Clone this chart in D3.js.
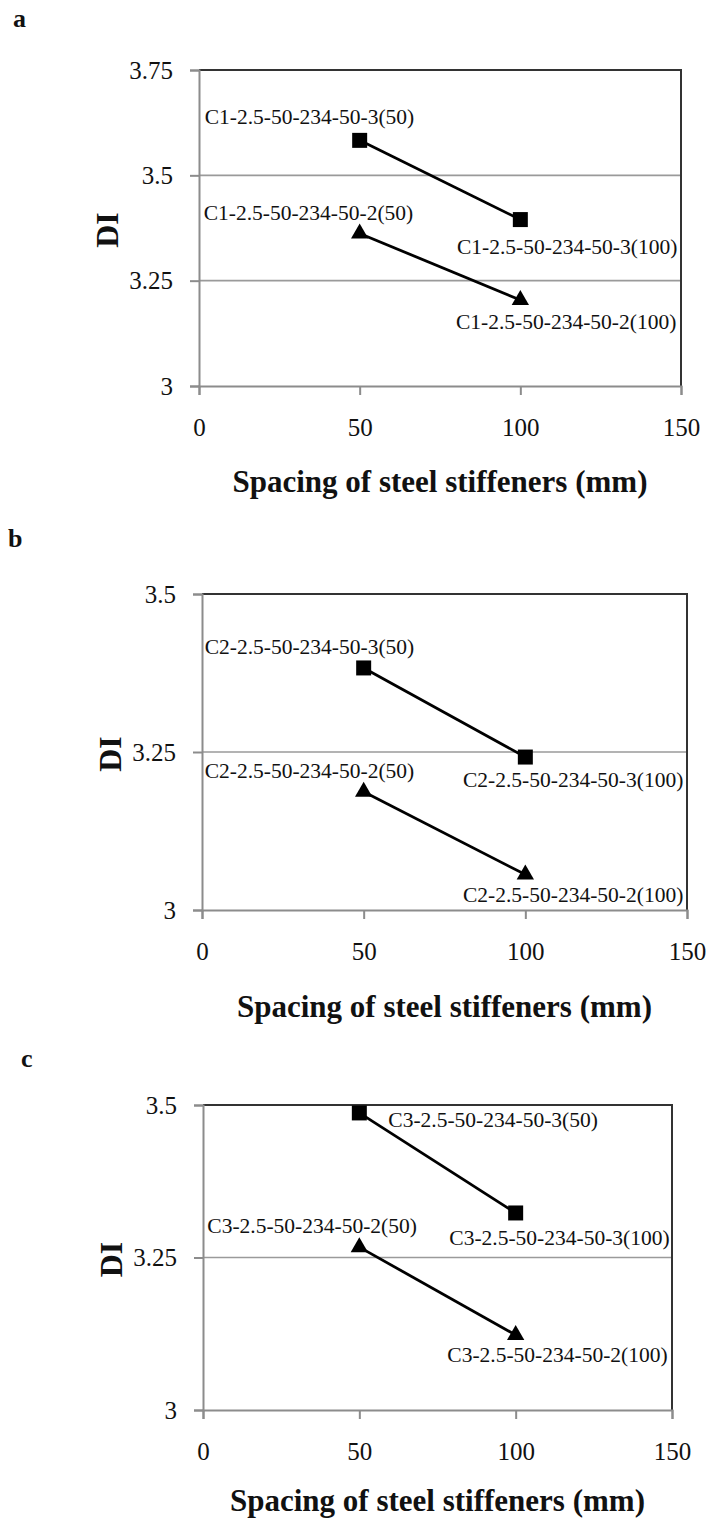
<!DOCTYPE html>
<html>
<head>
<meta charset="utf-8">
<script src="https://cdn.jsdelivr.net/npm/d3@7"></script>
<style>
  html, body { margin: 0; padding: 0; background: #fff; }
  svg { display: block; }
  text { font-family: "Liberation Serif", "Times New Roman", serif; fill: #111; }
</style>
</head>
<body>
<svg id="fig" width="707" height="1520"></svg>
<script>
// ---- data ----
const panelLetters = ["a", "b", "c"];
const specimens = ["C1", "C2", "C3"];
const spacing = [50, 100];                       // spacing of steel stiffeners (mm)
const xTicks = [0, 50, 100, 150];
const yTicksA = [3, 3.25, 3.5, 3.75];
const yTicksBC = [3, 3.25, 3.5];
const diThreeStiff = [[3.583, 3.395], [3.383, 3.242], [3.487, 3.323]];  // "-3" specimens (squares)
const diTwoStiff   = [[3.362, 3.204], [3.187, 3.056], [3.267, 3.123]];  // "-2" specimens (triangles)

// ---- layout ----
const frames = [
  { left: 199, top: 70,   right: 681, bottom: 386,  yTicks: yTicksA,  letter: [13, 27],  titleDy: 106 },
  { left: 202, top: 594,  right: 687, bottom: 910,  yTicks: yTicksBC, letter: [8, 547],  titleDy: 107 },
  { left: 203, top: 1105, right: 672, bottom: 1410, yTicks: yTicksBC, letter: [21, 1067], titleDy: 101 }
];
// label placement relative to each marker: [anchor, dx, dy] for (series, point)
const labelPlacement = [
  { three: [["start", -155, -16], ["end", 157, 34]], two: [["start", -156, -13], ["end", 156, 29]] },
  { three: [["start", -159, -14], ["end", 158, 30]], two: [["start", -159, -14], ["end", 158, 27]] },
  { three: [["start", 29, 14],    ["end", 154, 32]], two: [["start", -152, -14], ["end", 152, 27]] }
];

const svg = d3.select("#fig");
const axisGray = "#8c8c8c";
const serif = '"Liberation Serif", "Times New Roman", serif';

frames.forEach((f, i) => {
  const x = d3.scaleLinear().domain([0, 150]).range([f.left, f.right]);
  const yMax = d3.max(f.yTicks);
  const y = d3.scaleLinear().domain([3, yMax]).range([f.bottom, f.top]);
  const g = svg.append("g");

  // panel letter
  g.append("text").attr("x", f.letter[0]).attr("y", f.letter[1])
    .attr("font-size", 26).attr("font-weight", "bold").text(panelLetters[i]);

  // horizontal gridlines
  g.selectAll(".grid").data(f.yTicks.filter(t => t > 3 && t < yMax)).join("line")
    .attr("x1", f.left).attr("x2", f.right)
    .attr("y1", d => y(d)).attr("y2", d => y(d))
    .attr("stroke", "#9a9a9a").attr("stroke-width", 1.6);

  // plot area border (top and right)
  g.append("path")
    .attr("d", `M${f.left},${f.top}H${f.right}V${f.bottom}`)
    .attr("fill", "none").attr("stroke", "#333").attr("stroke-width", 2);

  // y axis
  const yAxis = g.append("g").attr("transform", `translate(${f.left},0)`)
    .call(d3.axisLeft(y).tickValues(f.yTicks).tickSize(9).tickPadding(17).tickFormat(d => String(d)));
  yAxis.attr("font-family", null);
  yAxis.select(".domain").attr("stroke", axisGray).attr("stroke-width", 2);
  yAxis.selectAll(".tick line").attr("stroke", axisGray).attr("stroke-width", 2);
  yAxis.selectAll(".tick text").style("font-family", serif).style("font-size", "25px").style("fill", "#111");

  // x axis
  const xAxis = g.append("g").attr("transform", `translate(0,${f.bottom})`)
    .call(d3.axisBottom(x).tickValues(xTicks).tickSize(9).tickPadding(23).tickFormat(d => String(d)));
  xAxis.attr("font-family", null);
  xAxis.select(".domain").attr("stroke", axisGray).attr("stroke-width", 2);
  xAxis.selectAll(".tick line").attr("stroke", axisGray).attr("stroke-width", 2);
  xAxis.selectAll(".tick text").style("font-family", serif).style("font-size", "25px").style("fill", "#111");

  // axis titles
  g.append("text").attr("x", (f.left + f.right) / 2).attr("y", f.bottom + f.titleDy)
    .attr("text-anchor", "middle").attr("font-size", 31).attr("font-weight", "bold")
    .text("Spacing of steel stiffeners (mm)");
  g.append("text")
    .attr("transform", `translate(${f.left - 88},${(f.top + f.bottom) / 2 + 2}) rotate(-90)`)
    .attr("text-anchor", "middle").attr("dominant-baseline", "middle")
    .attr("font-size", 32).attr("font-weight", "bold").text("DI");

  const line = d3.line().x(d => x(d.s)).y(d => y(d.v));
  const series = [
    { key: "three", n: 3, vals: diThreeStiff[i], shape: d3.symbolSquare, size: 225 },
    { key: "two",   n: 2, vals: diTwoStiff[i],   shape: d3.symbolTriangle, size: 130 }
  ];
  series.forEach(s => {
    const pts = spacing.map((sp, j) => ({ s: sp, v: s.vals[j], j }));
    g.append("path").datum(pts).attr("d", line)
      .attr("fill", "none").attr("stroke", "#000").attr("stroke-width", 2.8);
    g.selectAll(null).data(pts).join("path")
      .attr("transform", d => `translate(${x(d.s)},${y(d.v)})`)
      .attr("d", d3.symbol().type(s.shape).size(s.size))
      .attr("fill", "#000");
    g.selectAll(null).data(pts).join("text")
      .each(function (d) {
        const p = labelPlacement[i][s.key][d.j];
        d3.select(this)
          .attr("x", x(d.s) + p[1]).attr("y", y(d.v) + p[2])
          .attr("text-anchor", p[0]);
      })
      .attr("font-size", 21.5)
      .text(d => `${specimens[i]}-2.5-50-234-50-${s.n}(${d.s})`);
  });
});
</script>
</body>
</html>
